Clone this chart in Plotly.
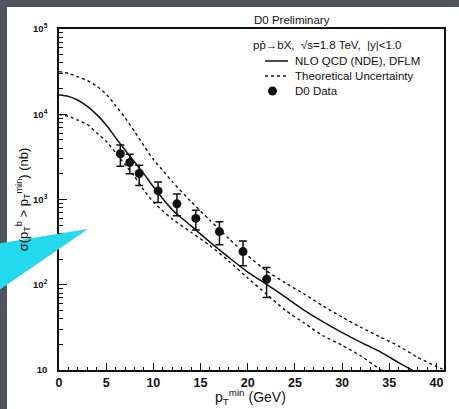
import plotly.graph_objects as go

# ---- data ----
theory_x = [0, 1, 2, 3, 4, 5, 6, 7, 8, 9, 10, 12, 14, 16, 18, 20, 22, 24, 26, 28, 30, 32, 34, 36, 38]
nlo_central = [16800, 16200, 14600, 12400, 9890, 7500, 5310, 3800, 2750, 2000, 1410, 759, 490, 316, 209,
               141, 101, 71.6, 50.1, 36.7, 27.5, 21.1, 16.4, 12.2, 9.2]

upper_x = [0, 1, 2, 3, 4, 5, 6, 7, 8, 9, 10, 11, 12, 14, 16, 18, 20, 22, 24, 26, 28, 30, 32, 34, 36, 38, 40, 41]
nlo_upper = [31600, 30200, 27500, 24800, 21400, 17200, 12600, 9100, 6300, 4270, 2950, 2190, 1620, 944, 571,
             347, 219, 145, 105, 77.6, 56.2, 41.7, 31.6, 24.5, 19.1, 14.1, 11.0, 9.8]

lower_x = [0, 1, 2, 3, 4, 5, 6, 7, 8, 9, 10, 11, 12, 14, 16, 18, 20, 22, 24, 26, 28, 30, 32, 34, 35]
nlo_lower = [9900, 9440, 8510, 7590, 6030, 4840, 3550, 2570, 1860, 1290, 933, 733, 589, 413, 288, 189, 120,
             77.4, 50, 35.5, 25.1, 19.5, 14.6, 10.2, 8.7]

data_x = [6.5, 7.5, 8.5, 10.5, 12.5, 14.5, 17, 19.5, 22]
data_y = [3440, 2720, 2020, 1260, 890, 600, 420, 245, 116]
data_err_plus = [930, 680, 500, 340, 270, 150, 130, 80, 43]
data_err_minus = [990, 720, 560, 340, 245, 160, 125, 78, 45]

x_ticks = [0, 5, 10, 15, 20, 25, 30, 35, 40]
y_ticks = [10, 100, 1000, 10000, 100000]
y_ticktext = ["10", "10<sup>2</sup>", "10<sup>3</sup>", "10<sup>4</sup>", "10<sup>5</sup>"]
y_minor = [m * d for d in (10, 100, 1000, 10000) for m in range(2, 10)]

legend_title = "pp\u0304\u2192bX,  \u221As=1.8 TeV,  |y|<1.0"
name_central = "NLO QCD (NDE), DFLM"
name_band = "Theoretical Uncertainty"
name_data = "D0 Data"

FONT = "Liberation Sans, Arial, sans-serif"
INK = "#111111"
DOT = "3px,3px"
BG = "#4f545f"

fig = go.Figure()

fig.add_trace(go.Scatter(
    x=theory_x, y=nlo_central, mode="lines", name=name_central,
    line=dict(color=INK, width=1.5, shape="spline", smoothing=0.8)))
fig.add_trace(go.Scatter(
    x=upper_x, y=nlo_upper, mode="lines", name=name_band,
    line=dict(color=INK, width=1.4, dash=DOT, shape="spline", smoothing=0.6)))
fig.add_trace(go.Scatter(
    x=lower_x, y=nlo_lower, mode="lines", name=name_band,
    line=dict(color=INK, width=1.4, dash=DOT, shape="spline", smoothing=0.6)))
fig.add_trace(go.Scatter(
    x=data_x, y=data_y, mode="markers", name=name_data,
    marker=dict(color=INK, size=9),
    error_y=dict(type="data", array=data_err_plus, arrayminus=data_err_minus,
                 color=INK, thickness=1.5, width=4)))

# layout geometry (pixels)
L, R, T, B = 59, 444, 29, 370
W, H = 459, 409


def px(xp):
    return (xp - L) / (R - L)


def py(yp):
    return (B - yp) / (B - T)


shapes = [
    # white slide panel
    dict(type="rect", xref="paper", yref="paper", layer="below",
         x0=px(7), x1=px(470), y0=py(420), y1=py(7),
         fillcolor="white", line=dict(width=0)),
    # legend samples
    dict(type="line", xref="paper", yref="paper", x0=px(265), x1=px(288), y0=py(61), y1=py(61),
         line=dict(color=INK, width=1.5)),
    dict(type="line", xref="paper", yref="paper", x0=px(265), x1=px(288), y0=py(76), y1=py(76),
         line=dict(color=INK, width=1.4, dash=DOT)),
    dict(type="circle", xref="paper", yref="paper", xsizemode="pixel", ysizemode="pixel",
         xanchor=px(272.5), yanchor=py(91), x0=-4.5, x1=4.5, y0=-4.5, y1=4.5,
         fillcolor=INK, line=dict(width=0)),
    # cyan callout
    dict(type="path", xref="paper", yref="paper", layer="above",
         path=f"M {px(-2)},{py(243.5)} L {px(88)},{py(229)} L {px(-2)},{py(291)} Z",
         fillcolor="#24d8ee", line=dict(width=0)),
]

TXT = dict(family=FONT, size=11.5, color=INK)


def note(text, x, y, xanchor="left", font=TXT):
    return dict(text=text, xref="paper", yref="paper", x=px(x), y=py(y),
                xanchor=xanchor, yanchor="middle", showarrow=False, font=font)


annotations = [
    note("D0 Preliminary", 292, 20, xanchor="center"),
    note(legend_title, 251, 45),
    note(name_central, 293, 61),
    note(name_band, 293, 76),
    note(name_data, 293, 91),
    note("p<sub>T</sub><sup>min</sup> (GeV)", 250, 397, xanchor="center",
         font=dict(family=FONT, size=14, color=INK)),
]

fig.update_layout(
    width=W, height=H,
    margin=dict(l=L, r=W - R, t=T, b=H - B),
    paper_bgcolor=BG,
    plot_bgcolor="white",
    font=dict(family=FONT, color=INK),
    shapes=shapes,
    annotations=annotations,
    showlegend=False,
    xaxis=dict(
        range=[0, 40.8], tickvals=x_ticks, ticks="inside", ticklen=7, tickwidth=1,
        tickcolor=INK, showline=True, linecolor=INK, linewidth=1.5, mirror=True,
        showgrid=False, zeroline=False, ticklabelstandoff=0,
        tickfont=dict(family=FONT, size=12.5, color=INK, weight="bold"),
        minor=dict(dtick=1, ticks="inside", ticklen=3, tickcolor=INK, showgrid=False),
    ),
    yaxis=dict(
        type="log", range=[1, 5], tickmode="array", tickvals=y_ticks, ticktext=y_ticktext,
        ticks="inside", ticklen=8, tickwidth=1, tickcolor=INK,
        showline=True, linecolor=INK, linewidth=1.5, mirror=True,
        showgrid=False, zeroline=False, ticklabelstandoff=8,
        tickfont=dict(family=FONT, size=9.5, color=INK, weight="bold"),
        minor=dict(tickmode="array", tickvals=y_minor, ticks="inside", ticklen=4,
                   tickcolor=INK, showgrid=False),
        title=dict(text="\u03c3(p<sub>T</sub><sup>b</sup> &gt; p<sub>T</sub><sup>min</sup>) (nb)",
                   standoff=2, font=dict(family=FONT, size=13, color=INK)),
    ),
)

fig.write_html("out.html", config={"displayModeBar": False},
               post_script=f"document.body.style.margin='0';document.body.style.background='{BG}';")
